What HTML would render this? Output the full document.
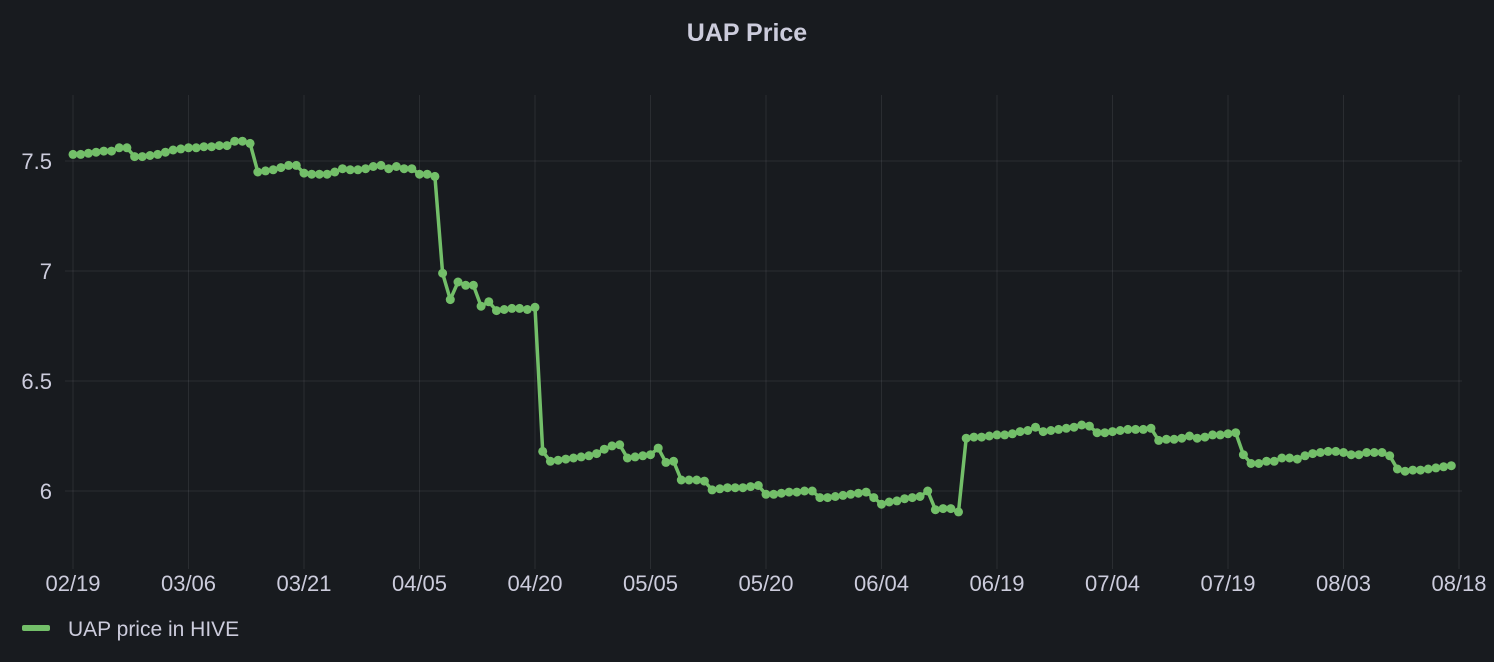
<!DOCTYPE html>
<html><head><meta charset="utf-8"><style>
body{margin:0;background:#181b1f;font-family:"Liberation Sans",sans-serif;overflow:hidden}
svg{display:block}
</style></head><body>
<svg id="chart" width="1494" height="662">
<rect width="1494" height="662" fill="#181b1f"/>
<text x="747" y="41" text-anchor="middle" fill="#ccccdc" font-size="25" font-weight="bold">UAP Price</text>
<g id="grid"></g><g id="axes"></g><g id="series"></g>
<g>
<rect x="22" y="625" width="28" height="6" rx="2" fill="#73bf69"/>
<text x="68" y="636" fill="#ccccdc" font-size="21">UAP price in HIVE</text>
</g>
</svg>
<script>
const xTicks=["02/19","03/06","03/21","04/05","04/20","05/05","05/20","06/04","06/19","07/04","07/19","08/03","08/18"];
const yTicks=[6,6.5,7,7.5];
const prices=[7.53,7.53,7.535,7.54,7.545,7.545,7.56,7.56,7.52,7.52,7.525,7.53,7.54,7.55,7.555,7.56,7.56,7.565,7.565,7.57,7.57,7.59,7.59,7.58,
7.45,7.455,7.46,7.47,7.48,7.48,7.445,7.44,7.44,7.44,7.45,7.465,7.46,7.46,7.465,7.475,7.48,7.465,7.475,7.465,7.465,7.44,7.44,7.43,
6.99,6.87,6.95,6.935,6.935,6.84,6.86,6.82,6.825,6.83,6.83,6.825,6.835,
6.18,6.135,6.14,6.145,6.15,6.155,6.16,6.17,6.19,6.205,6.21,6.15,6.155,6.16,6.165,6.195,6.13,6.135,6.05,6.05,6.05,6.045,6.005,6.01,6.015,6.015,6.015,6.02,6.025,
5.985,5.985,5.99,5.995,5.995,6.0,6.0,5.97,5.97,5.975,5.98,5.985,5.99,5.995,5.97,5.94,5.95,5.955,5.965,5.97,5.975,6.0,5.915,5.92,5.92,5.905,
6.24,6.245,6.245,6.25,6.255,6.255,6.26,6.27,6.275,6.29,6.27,6.275,6.28,6.285,6.29,6.3,6.295,6.265,6.265,6.27,6.275,6.28,6.28,6.28,6.285,
6.23,6.235,6.235,6.24,6.25,6.24,6.245,6.255,6.255,6.26,6.265,
6.165,6.125,6.125,6.135,6.135,6.15,6.15,6.145,6.16,6.17,6.175,6.18,6.18,6.175,6.165,6.165,6.175,6.175,6.175,6.16,
6.1,6.09,6.095,6.095,6.1,6.105,6.11,6.115];
const X0=73,X1=1459,DAYS=180,TICKSTEP=15,PT=95,PB=563;
const xScale=d=>X0+(X1-X0)*d/DAYS;
const yScale=v=>161+(7.5-v)*220;
const NS="http://www.w3.org/2000/svg";
const grid=document.getElementById('grid'),axes=document.getElementById('axes'),series=document.getElementById('series');
function mk(tag,attrs,parent){const e=document.createElementNS(NS,tag);for(const k in attrs)e.setAttribute(k,attrs[k]);parent.appendChild(e);return e;}
yTicks.forEach(v=>{
 const y=yScale(v);
 const l=mk('line',{x1:X0-8,x2:1462,y1:y,y2:y,stroke:'rgba(204,204,220,0.1)','stroke-width':1},grid);
 
 
 const t=mk('text',{x:52,y:y+8,'text-anchor':'end',fill:'#ccccdc','font-size':22},axes);
 t.textContent=String(v);
 
 
});
xTicks.forEach((s,i)=>{
 const x=xScale(i*TICKSTEP);
 const l=mk('line',{x1:x,x2:x,y1:PT,y2:PB+6,stroke:'rgba(204,204,220,0.1)','stroke-width':1},grid);
 
 
 const t=mk('text',{x:x,y:591,'text-anchor':'middle',fill:'#ccccdc','font-size':22},axes);
 t.textContent=s;
 
 
});
const pts=prices.map((v,i)=>xScale(i).toFixed(1)+','+yScale(v).toFixed(1)).join(' ');
const pl=mk('polyline',{points:pts,fill:'none',stroke:'#73bf69','stroke-width':3.5,'stroke-linejoin':'round'},series);


prices.forEach((v,i)=>{
 const c=mk('circle',{cx:xScale(i),cy:yScale(v),r:4.5,fill:'#73bf69'},series);
 
 
});
</script>
</body></html>
